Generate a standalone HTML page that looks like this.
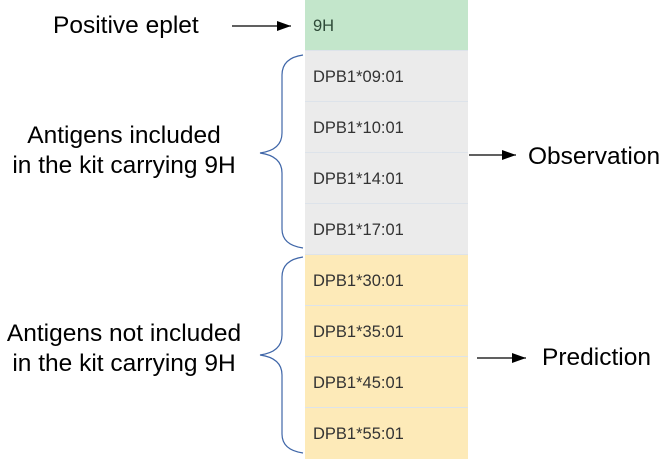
<!DOCTYPE html>
<html><head><style>
body{margin:0;width:661px;height:457px;background:#fff;position:relative;overflow:hidden;font-family:"Liberation Sans",sans-serif}
.r{position:absolute;left:305px;width:163px;height:50px;border-bottom:1px solid #dde3ea;font-size:16.5px;color:#333;box-sizing:border-box;padding-left:8px;line-height:52px}
.t{position:absolute;font-size:24.5px;color:#000;text-align:center;line-height:30px;white-space:nowrap}
</style></head><body>
<div class="r" style="top:0;height:51px;background:#c3e6cb;color:#2e4a38">9H</div>
<div class="r" style="top:51px;height:51px;background:#ebebeb">DPB1*09:01</div>
<div class="r" style="top:102px;height:51px;background:#ebebeb">DPB1*10:01</div>
<div class="r" style="top:153px;height:51px;background:#ebebeb">DPB1*14:01</div>
<div class="r" style="top:204px;height:51px;background:#ebebeb">DPB1*17:01</div>
<div class="r" style="top:255px;height:51px;background:#fdeab8">DPB1*30:01</div>
<div class="r" style="top:306px;height:51px;background:#fdeab8">DPB1*35:01</div>
<div class="r" style="top:357px;height:51px;background:#fdeab8">DPB1*45:01</div>
<div class="r" style="top:408px;height:51px;background:#fdeab8;border:none">DPB1*55:01</div>
<div class="t" style="left:53px;top:11px">Positive eplet</div>
<div class="t" style="left:-1px;top:121px;width:250px">Antigens included<br>in the kit carrying 9H</div>
<div class="t" style="left:-1px;top:319px;width:250px">Antigens not included<br>in the kit carrying 9H</div>
<div class="t" style="left:528px;top:142px">Observation</div>
<div class="t" style="left:542px;top:343px">Prediction</div>
<svg width="661" height="457" style="position:absolute;left:0;top:0">
<defs><marker id="a" markerWidth="14" markerHeight="10" refX="14" refY="5" orient="auto" markerUnits="userSpaceOnUse"><path d="M0,0L14,5L0,10z" fill="#000"/></marker></defs>
<line x1="232" y1="26" x2="291" y2="26" stroke="#000" stroke-width="1.3" marker-end="url(#a)"/>
<line x1="469" y1="155" x2="516" y2="155" stroke="#000" stroke-width="1.3" marker-end="url(#a)"/>
<line x1="477" y1="358" x2="526" y2="358" stroke="#000" stroke-width="1.3" marker-end="url(#a)"/>
<path d="M303,55 Q282,58 282,75 L282,133 Q282,150 260,153 Q282,156 282,173 L282,229 Q282,245 303,248" fill="none" stroke="#3f66a8" stroke-width="1.2"/>
<path d="M303,257 Q282,260 282,277 L282,335 Q282,352 260,355 Q282,358 282,375 L282,434 Q282,450 303,453" fill="none" stroke="#3f66a8" stroke-width="1.2"/>
</svg>
</body></html>
